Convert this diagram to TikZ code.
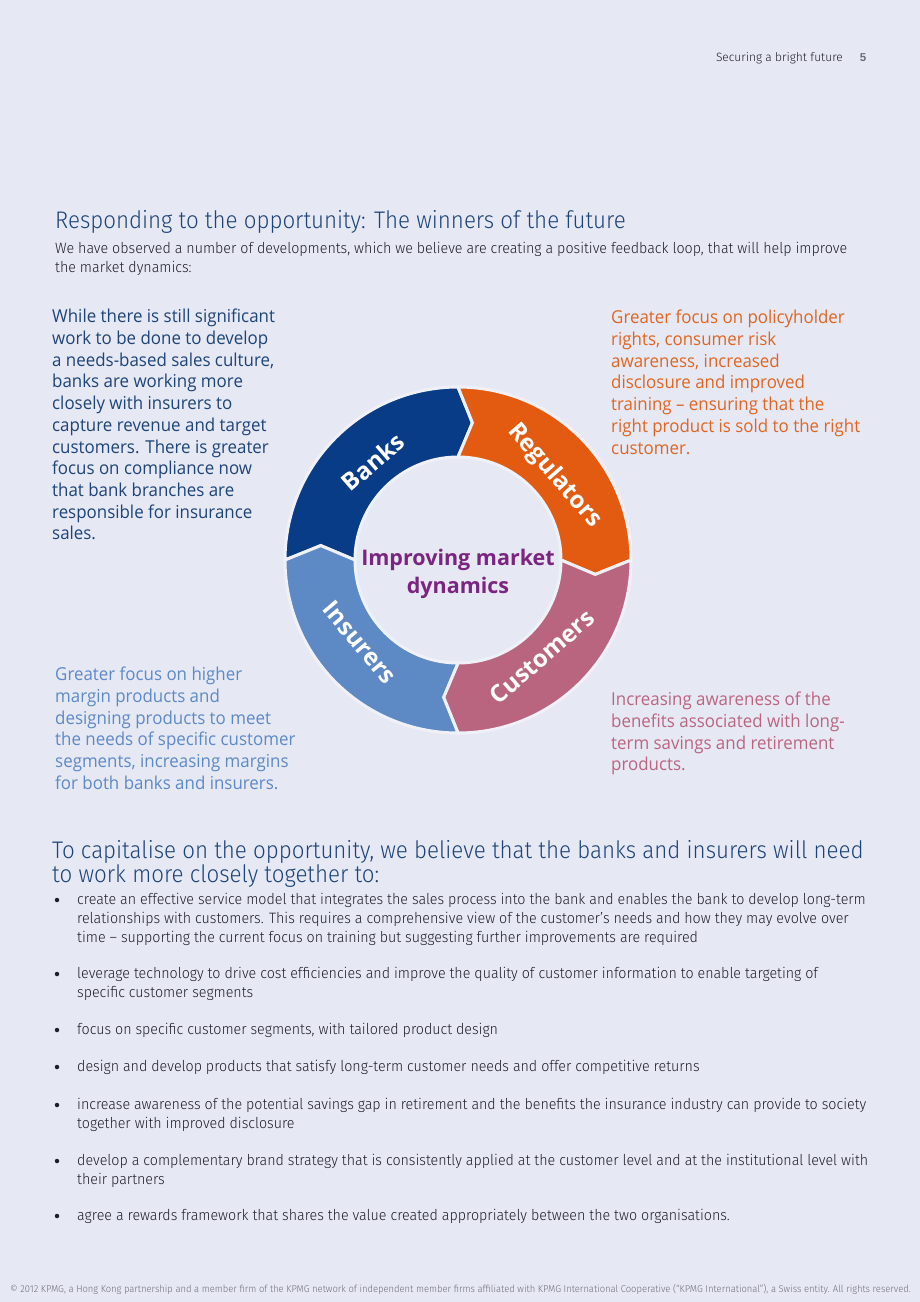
\documentclass[tikz,border=0pt]{standalone}
\usepackage{fontspec}
\setmainfont{Liberation Sans}
\newfontfamily\lightfont{Fira Sans Light}
\newfontfamily\headfont[FakeStretch=0.93]{Fira Sans Light}
\newfontfamily\condfont[FakeStretch=0.95]{Fira Sans Light}
\newfontfamily\callfont[FakeStretch=0.95]{Open Sans}
\newfontfamily\labelfont{Open Sans}
\usetikzlibrary{positioning}

\definecolor{pagebg}{RGB}{230,232,244}
\definecolor{bankblue}{RGB}{8,60,135}
\definecolor{regorange}{RGB}{227,91,17}
\definecolor{custmauve}{RGB}{186,101,128}
\definecolor{insblue}{RGB}{93,137,197}
\definecolor{centrepurple}{RGB}{122,37,128}
\definecolor{headblue}{RGB}{30,68,118}
\definecolor{bodygray}{RGB}{30,30,40}
\definecolor{footgray}{RGB}{110,110,122}
\definecolor{callorange}{RGB}{222,102,34}

\tikzset{
  calltext/.style={anchor=north west, inner sep=0pt, align=left,
    font=\callfont\fontsize{17.8}{21.7}\selectfont},
  bodytext/.style={anchor=north west, inner sep=0pt, align=left, text=bodygray,
    font=\condfont\fontsize{15}{19}\selectfont},
  headtext/.style={anchor=north west, inner sep=0pt, align=left, text=headblue,
    font=\headfont\fontsize{24}{24}\selectfont},
  bulletdot/.style={circle, fill=bodygray, inner sep=0pt, minimum size=4.5pt},
  segment/.style={draw=pagebg!60!white, line width=3pt, line join=miter},
  seglabel/.style={text=white, inner sep=0pt, font=\labelfont\bfseries\fontsize{24}{24}\selectfont},
}

\begin{document}
\begin{tikzpicture}[x=1pt,y=-1pt]
    \fill[pagebg] (0,0) rectangle (920,1302);
    \useasboundingbox (0,0) rectangle (920,1302);

    % running head
    \node[anchor=base east, inner sep=0pt, text=bodygray, font=\lightfont\fontsize{12}{12}\selectfont] (runhead) at (843,61) {Securing a bright future};
    \node[anchor=base, inner sep=0pt, text=footgray, font=\bfseries\fontsize{11.5}{12}\selectfont] (pageno) at (863,61) {5};

    % intro
    \node[headtext] (title) at (55,210) {Responding to the opportunity: The winners of the future};
    \node[bodytext] (intro) at (55,242) {We have observed a number of developments, which we believe are creating a positive feedback loop, that will help improve\\
        the market dynamics:};

    % callouts
    \node[calltext, text=headblue] (bankstext) at (52,309) {While there is still significant\\
        work to be done to develop\\
        a needs-based sales culture,\\
        banks are working more\\
        closely with insurers to\\
        capture revenue and target\\
        customers. There is greater\\
        focus on compliance now\\
        that bank branches are\\
        responsible for insurance\\
        sales.};
    \node[calltext, text=callorange] (regtext) at (611,310) {Greater focus on policyholder\\
        rights, consumer risk\\
        awareness, increased\\
        disclosure and improved\\
        training – ensuring that the\\
        right product is sold to the right\\
        customer.};
    \node[calltext, text=insblue] (instext) at (55,667) {Greater focus on higher\\
        margin products and\\
        designing products to meet\\
        the needs of specific customer\\
        segments, increasing margins\\
        for both banks and insurers.};
    \node[calltext, text=custmauve] (custtext) at (611,692) {Increasing awareness of the\\
        benefits associated with long-\\
        term savings and retirement\\
        products.};

    % cycle
    \begin{scope}[shift={(458,560)}, yscale=-1]
        \filldraw[segment, fill=bankblue] (180:173) arc[start angle=180, end angle=90, radius=173] -- (84:138) -- (90:103) arc[start angle=90, end angle=180, radius=103] -- (174:138) -- cycle;
        \filldraw[segment, fill=regorange] (90:173) arc[start angle=90, end angle=0, radius=173] -- (-6:138) -- (0:103) arc[start angle=0, end angle=90, radius=103] -- (84:138) -- cycle;
        \filldraw[segment, fill=custmauve] (0:173) arc[start angle=0, end angle=-90, radius=173] -- (-96:138) -- (-90:103) arc[start angle=-90, end angle=0, radius=103] -- (-6:138) -- cycle;
        \filldraw[segment, fill=insblue] (-90:173) arc[start angle=-90, end angle=-180, radius=173] -- (-186:138) -- (-180:103) arc[start angle=-180, end angle=-90, radius=103] -- (-96:138) -- cycle;
        \node[seglabel, rotate=41] (banks) at (131:130) {Banks};
        \node[seglabel, rotate=-49] (regulators) at (41:128) {Regulators};
        \node[seglabel, rotate=41] (customers) at (-49:128) {Customers};
        \node[seglabel, rotate=-50] (insurers) at (220:128) {Insurers};
    \end{scope}
    \node[align=center, inner sep=0pt, text=centrepurple, font=\labelfont\bfseries\fontsize{21.5}{28}\selectfont] (centre) at (458,574) {Improving market\\dynamics};

    % actions
    \node[headtext] (actions) at (52,840) {To capitalise on the opportunity, we believe that the banks and insurers will need\\
        to work more closely together to:};

    \node[bulletdot] (dot1) at (57,900) {};
    \node[bodytext] (item1) at (77,893) {create an effective service model that integrates the sales process into the bank and enables the bank to develop long-term\\
        relationships with customers. This requires a comprehensive view of the customer’s needs and how they may evolve over\\
        time – supporting the current focus on training but suggesting further improvements are required};
    \node[bulletdot] (dot2) at (57,974) {};
    \node[bodytext] (item2) at (77,967) {leverage technology to drive cost efficiencies and improve the quality of customer information to enable targeting of\\
        specific customer segments};
    \node[bulletdot] (dot3) at (57,1030) {};
    \node[bodytext] (item3) at (77,1023) {focus on specific customer segments, with tailored product design};
    \node[bulletdot] (dot4) at (57,1067) {};
    \node[bodytext] (item4) at (77,1060) {design and develop products that satisfy long-term customer needs and offer competitive returns};
    \node[bulletdot] (dot5) at (57,1105) {};
    \node[bodytext] (item5) at (77,1098) {increase awareness of the potential savings gap in retirement and the benefits the insurance industry can provide to society\\
        together with improved disclosure};
    \node[bulletdot] (dot6) at (57,1161) {};
    \node[bodytext] (item6) at (77,1154) {develop a complementary brand strategy that is consistently applied at the customer level and at the institutional level with\\
        their partners};
    \node[bulletdot] (dot7) at (57,1216) {};
    \node[bodytext] (item7) at (77,1209) {agree a rewards framework that shares the value created appropriately between the two organisations.};

    % footer
    \node[anchor=base west, inner sep=0pt, text=footgray, font=\condfont\fontsize{9.9}{10}\selectfont] (footer) at (10,1292) {© 2012 KPMG, a Hong Kong partnership and a member firm of the KPMG network of independent member firms affiliated with KPMG International Cooperative (“KPMG International”), a Swiss entity. All rights reserved.};
\end{tikzpicture}
\end{document}
